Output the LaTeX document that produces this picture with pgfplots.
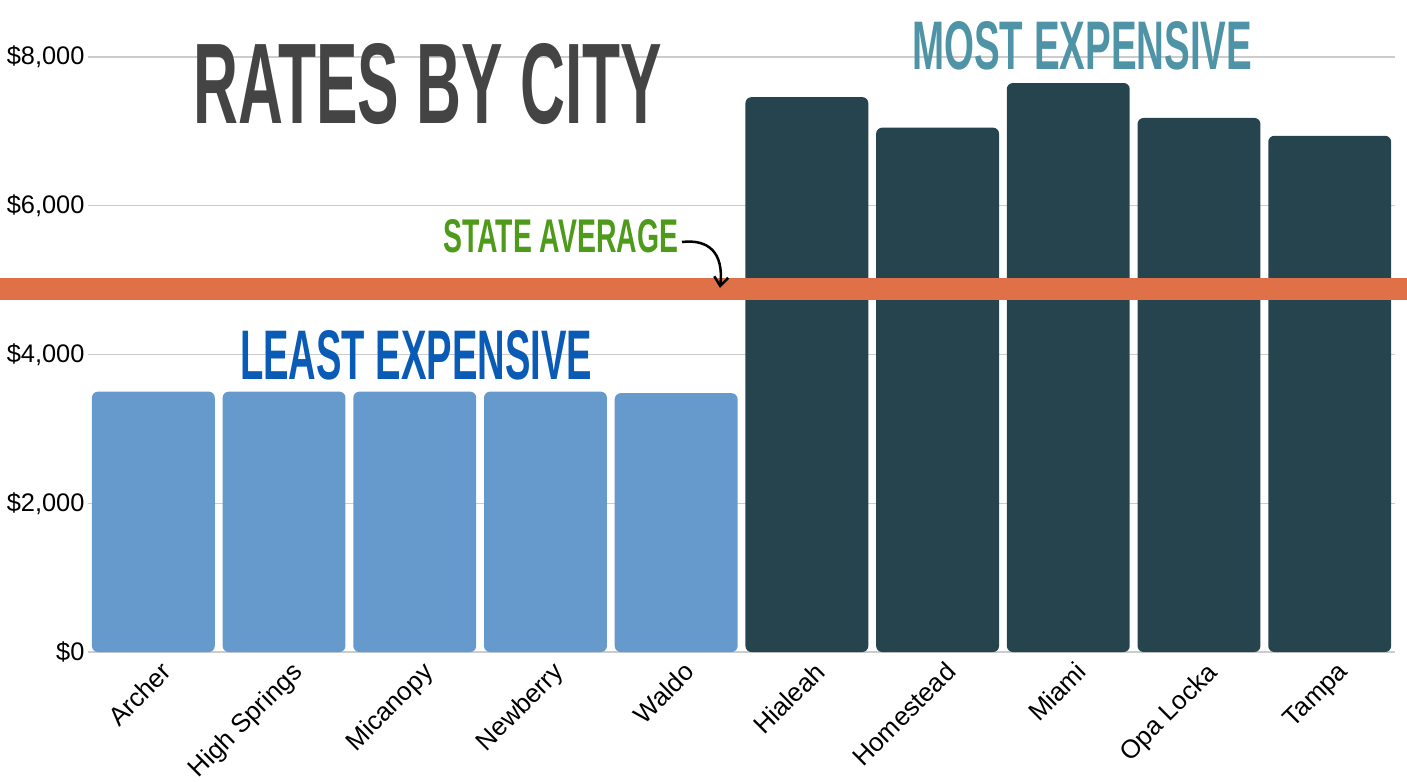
\documentclass[border=0pt]{standalone}
\usepackage{fontspec}
\setmainfont{Liberation Sans}
\usepackage{pgfplots}
\pgfplotsset{compat=1.18}
\usetikzlibrary{arrows.meta}

\definecolor{lightbar}{HTML}{6699CC}
\definecolor{darkbar}{HTML}{25444E}
\definecolor{avgline}{HTML}{E07048}
\definecolor{avgtext}{HTML}{4E9A1A}
\definecolor{leasttext}{HTML}{0A5BB5}
\definecolor{mosttext}{HTML}{4F93A6}
\definecolor{titlegray}{HTML}{444444}
\definecolor{gridgray}{HTML}{CCCCCC}

\begin{document}
\begin{tikzpicture}
\begin{axis}[
    scale only axis,
    width=1307bp, height=595bp,
    ybar, bar width=0.94, bar shift=0pt,
    xmin=-0.5, xmax=9.5,
    ymin=0, ymax=8000,
    clip=false,
    axis line style={draw=none},
    tick style={draw=none},
    ymajorgrids,
    grid style={gridgray, line width=1.5bp},
    xtick={0,...,9},
    xticklabels={Archer, High Springs, Micanopy, Newberry, Waldo,
                 Hialeah, Homestead, Miami, Opa Locka, Tampa},
    xticklabel style={rotate=45, anchor=north east, font=\fontsize{26}{30}\selectfont,
                      xshift=5bp, yshift=-4bp},
    ytick={0,2000,4000,6000,8000},
    yticklabel={\$\pgfmathprintnumber{\tick}},
    yticklabel style={font=\fontsize{25.5}{30}\selectfont},
    /pgf/number format/.cd, 1000 sep={,}, assume math mode=true,
]
% least expensive
\addplot[fill=lightbar, draw=none, rounded corners=6bp] coordinates {
    (0,3500) (1,3500) (2,3500) (3,3500) (4,3480)
};
% most expensive
\addplot[fill=darkbar, draw=none, rounded corners=6bp] coordinates {
    (5,7460) (6,7050) (7,7650) (8,7180) (9,6940)
};
% state average
\addplot[sharp plot, avgline, line width=22bp, forget plot] coordinates {
    (-1.1733,4880) (9.5918,4880)
};
\end{axis}

\node[anchor=south west, inner sep=0, text=titlegray] at (105bp,527bp)
    {\resizebox{469bp}{80bp}{\bfseries RATES BY CITY}};
\node[anchor=south west, inner sep=0, text=mosttext] at (824bp,582bp)
    {\resizebox{340bp}{48bp}{\bfseries MOST EXPENSIVE}};
\node[anchor=south west, inner sep=0, text=leasttext] at (152bp,272bp)
    {\resizebox{352bp}{49bp}{\bfseries LEAST EXPENSIVE}};
\node[anchor=south west, inner sep=0, text=avgtext] at (355bp,399bp)
    {\resizebox{235bp}{33bp}{\bfseries STATE AVERAGE}};
\draw[line width=2.5bp, -{Straight Barb[length=9bp, width=14bp]}]
    (594bp,410bp) .. controls (620bp,413bp) and (636bp,400bp) .. (632bp,364bp);

\pgfresetboundingbox
\useasboundingbox (-88bp,-130bp) rectangle (1319bp,652bp);
\end{tikzpicture}
\end{document}
